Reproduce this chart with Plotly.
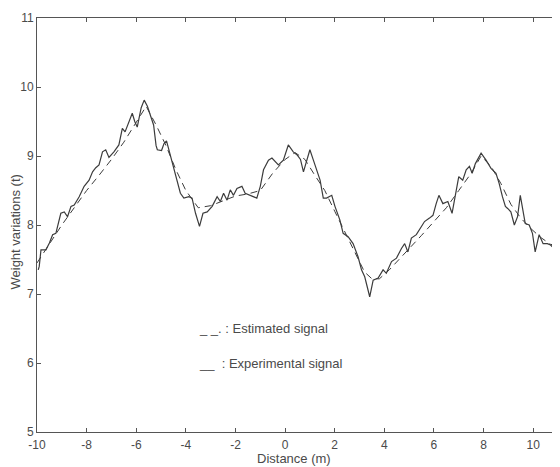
import plotly.graph_objects as go

# Experimental signal (solid)
exp_x = [-9.95, -9.91, -9.84, -9.64, -9.5, -9.37, -9.24, -9.04, -8.9, -8.77, -8.63, -8.5, -8.3, -8.1,
         -7.9, -7.76, -7.63, -7.5, -7.36, -7.23, -7.1, -6.9, -6.7, -6.56, -6.45, -6.3, -6.16, -6.06,
         -5.96, -5.8, -5.68, -5.55, -5.45, -5.3, -5.2, -5.15, -4.98, -4.88, -4.78, -4.65, -4.5, -4.35,
         -4.22, -4.08, -3.88, -3.75, -3.61, -3.45, -3.31, -3.14, -2.94, -2.74, -2.61, -2.48, -2.34,
         -2.21, -2.08, -1.94, -1.74, -1.61, -1.41, -1.14, -1.0, -0.87, -0.67, -0.53, -0.27, -0.07,
         0.13, 0.33, 0.5, 0.62, 0.74, 0.87, 1.0, 1.14, 1.27, 1.41, 1.54, 1.67, 1.88, 2.01, 2.21, 2.34,
         2.54, 2.74, 2.94, 3.08, 3.21, 3.3, 3.41, 3.55, 3.75, 3.95, 4.08, 4.29, 4.49, 4.69, 4.82, 4.95,
         5.09, 5.29, 5.49, 5.62, 5.82, 5.96, 6.09, 6.2, 6.36, 6.56, 6.73, 6.87, 7.0, 7.16, 7.3, 7.43,
         7.54, 7.67, 7.83, 7.9, 8.1, 8.3, 8.5, 8.63, 8.76, 8.88, 8.97, 9.1, 9.24, 9.37, 9.48, 9.57,
         9.68, 9.84, 9.97, 10.08, 10.24, 10.4, 10.57, 10.7, 10.84, 11.0]
exp_y = [7.35, 7.40, 7.64, 7.64, 7.74, 7.86, 7.88, 8.17, 8.19, 8.12, 8.27, 8.29, 8.41, 8.56,
         8.65, 8.77, 8.83, 8.87, 9.06, 9.09, 8.98, 9.06, 9.16, 9.40, 9.35, 9.50, 9.62, 9.50,
         9.42, 9.70, 9.81, 9.72, 9.62, 9.45, 9.15, 9.09, 9.08, 9.18, 9.22, 9.05, 8.85, 8.65,
         8.46, 8.39, 8.41, 8.39, 8.17, 7.98, 8.17, 8.19, 8.27, 8.41, 8.34, 8.46, 8.36,
         8.51, 8.43, 8.53, 8.56, 8.46, 8.43, 8.39, 8.56, 8.80, 8.94, 8.97, 8.87, 8.94,
         9.16, 9.06, 9.01, 8.95, 8.77, 8.95, 9.09, 8.94, 8.80, 8.65, 8.39, 8.39, 8.43, 8.27, 8.07, 7.88,
         7.83, 7.73, 7.54, 7.35, 7.25, 7.11, 6.96, 7.20, 7.23, 7.35, 7.30, 7.47, 7.52, 7.66, 7.73, 7.61,
         7.81, 7.86, 7.98, 8.05, 8.10, 8.14, 8.31, 8.43, 8.31, 8.34, 8.17, 8.46, 8.70, 8.65, 8.80, 8.85,
         8.75, 8.89, 9.01, 9.04, 8.94, 8.82, 8.75, 8.60, 8.41, 8.27, 8.24, 8.19, 8.00, 8.12, 8.43, 8.27,
         8.02, 8.00, 7.88, 7.61, 7.86, 7.73, 7.73, 7.71, 7.66, 7.83]

# Estimated signal (dashed)
est_x = [-10, -9.5, -9, -8.5, -8, -7.5, -7, -6.5, -6, -5.6, -5.2, -4.8, -4.4, -4.0, -3.5, -3.0,
         -2.5, -2, -1.5, -1, -0.5, 0, 0.4, 0.8, 1.2, 1.6, 2.0, 2.4, 2.8, 3.2, 3.5, 3.8, 4.2, 4.6,
         5, 5.5, 6, 6.5, 7, 7.5, 7.9, 8.3, 8.7, 9.1, 9.5, 9.9, 10.3, 10.7, 11]
est_y = [7.45, 7.72, 8.0, 8.25, 8.5, 8.72, 8.95, 9.2, 9.48, 9.72, 9.45, 9.15, 8.8, 8.5, 8.25, 8.28,
         8.35, 8.42, 8.45, 8.5, 8.75, 8.95, 9.05, 8.95, 8.72, 8.5, 8.2, 7.9, 7.6, 7.32, 7.22, 7.22,
         7.35, 7.5, 7.65, 7.85, 8.05, 8.25, 8.5, 8.75, 9.0, 8.85, 8.6, 8.3, 8.1, 7.95, 7.82, 7.72, 7.7]

x_ticks = [-10, -8, -6, -4, -2, 0, 2, 4, 6, 8, 10]
x_tick_labels = ["-10", "-8", "-6", "-4", "-2", "0", "2", "4", "6", "8", "10"]
y_ticks = [5, 6, 7, 8, 9, 10, 11]
y_tick_labels = ["5", "6", "7", "8", "9", "10", "11"]

line_col = "#3c3c3c"
txt_col = "#4a4a4a"
font_fam = "Liberation Sans, Arial, sans-serif"

fig = go.Figure()
fig.add_trace(go.Scatter(x=est_x, y=est_y, mode="lines",
                         line=dict(color=line_col, width=1, dash="7px,5px")))
fig.add_trace(go.Scatter(x=exp_x, y=exp_y, mode="lines",
                         line=dict(color=line_col, width=1.2)))

axis_common = dict(showline=True, linecolor="#555555", linewidth=1, mirror="ticks",
                   ticks="inside", ticklen=4, tickcolor="#555555", showgrid=False,
                   zeroline=False, tickfont=dict(family=font_fam, size=12, color=txt_col))

fig.update_layout(
    width=552, height=459,
    margin=dict(l=29, r=2, t=10, b=35),
    paper_bgcolor="white", plot_bgcolor="white",
    showlegend=False,
    font=dict(family=font_fam, color=txt_col),
    xaxis=dict(range=[-10, 11], tickvals=x_ticks, ticktext=x_tick_labels,
               ticklabelstandoff=2, **axis_common),
    yaxis=dict(range=[5, 11], tickvals=y_ticks, ticktext=y_tick_labels, **axis_common),
    annotations=[
        dict(text="Distance (m)", x=0.493, y=-0.065, xref="paper", yref="paper",
             showarrow=False, xanchor="center", yanchor="middle",
             font=dict(size=13, color=txt_col, family=font_fam)),
        dict(text="Weight variations (t)", x=-0.0413, y=0.483, xref="paper", yref="paper",
             showarrow=False, textangle=-90, xanchor="center", yanchor="middle",
             font=dict(size=13, color=txt_col, family=font_fam)),
        dict(text="_ _. : Estimated signal", x=-3.55, y=6.5, xref="x", yref="y",
             showarrow=False, xanchor="left", yanchor="middle",
             font=dict(size=13, color=txt_col, family=font_fam)),
        dict(text="__  : Experimental signal", x=-3.55, y=6.0, xref="x", yref="y",
             showarrow=False, xanchor="left", yanchor="middle",
             font=dict(size=13, color=txt_col, family=font_fam)),
    ],
)

fig.write_html("out.html")
